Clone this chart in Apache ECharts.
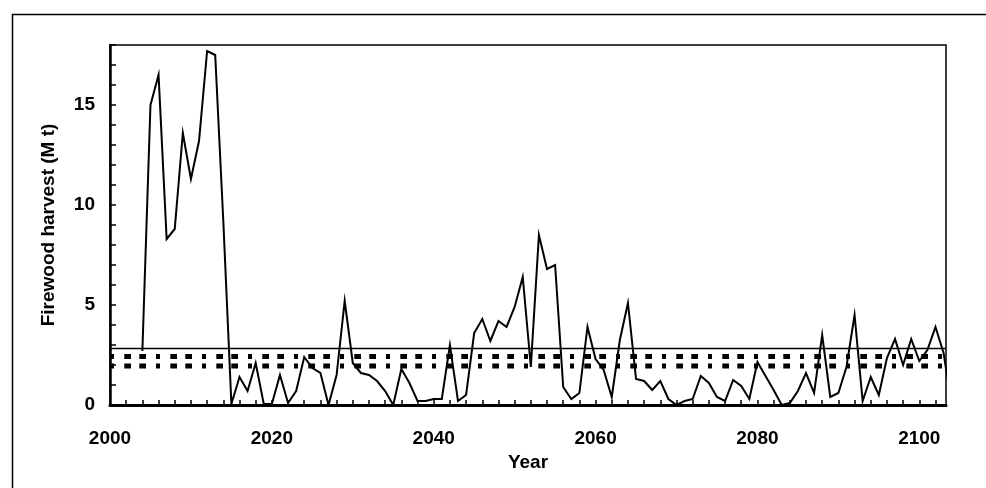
<!DOCTYPE html>
<html>
<head>
<meta charset="utf-8">
<script src="https://cdn.jsdelivr.net/npm/echarts@6/dist/echarts.min.js"></script>
<style>
html,body{margin:0;padding:0;background:#fff;}
#chart{width:986px;height:488px;}
</style>
</head>
<body>
<div id="chart"></div>
<script>
// ---- data ----
var years = [];
for (var y = 2004; y <= 2104; y++) years.push(y);
var harvest = [
  2.7, 15.0, 16.5, 8.3, 8.8, 13.6, 11.3, 13.2, 17.7, 17.5,      // 2004-2013
  9.2, 0.05, 1.4, 0.7, 2.1, 0.05, 0.05, 1.5, 0.1, 0.7,          // 2014-2023
  2.4, 1.85, 1.6, 0.0, 1.5, 5.2, 2.1, 1.6, 1.5, 1.2,            // 2024-2033
  0.7, 0.0, 1.8, 1.1, 0.2, 0.2, 0.3, 0.3, 3.0, 0.2,             // 2034-2043
  0.5, 3.6, 4.3, 3.2, 4.2, 3.9, 4.9, 6.4, 1.9, 8.5,             // 2044-2053
  6.8, 7.0, 0.9, 0.3, 0.6, 3.9, 2.3, 1.75, 0.4, 3.25,           // 2054-2063
  5.1, 1.3, 1.2, 0.75, 1.2, 0.3, 0.0, 0.2, 0.3, 1.45,           // 2064-2073
  1.1, 0.4, 0.2, 1.25, 0.95, 0.3, 2.15, 1.45, 0.75, 0.0,        // 2074-2083
  0.1, 0.7, 1.6, 0.6, 3.5, 0.4, 0.6, 1.9, 4.5, 0.2,             // 2084-2093
  1.4, 0.5, 2.35, 3.3, 2.0, 3.3, 2.2, 2.75, 3.9, 2.6,           // 2094-2103
  0.0                                                           // 2104
];
var refSolid = 2.83;
var refDotted = [2.42, 1.95];
var xTickLabels = [2000, 2020, 2040, 2060, 2080, 2100];
var yTickLabels = [0, 5, 10, 15];
var xName = 'Year';
var yName = 'Firewood harvest (M t)';

// ---- chart ----
var X_MIN = 2000, X_MAX = 2103.3;
var FONT = "'Liberation Sans', Arial, sans-serif";
var chart = echarts.init(document.getElementById('chart'), null, {renderer: 'canvas'});

var mainData = years.map(function (yr, i) { return [yr, harvest[i]]; });
function hline(v) { return [[X_MIN, v], [X_MAX, v]]; }

var series = [
  {
    type: 'line', data: hline(refSolid), symbol: 'none', silent: true,
    lineStyle: {color: '#000', width: 1.5}, z: 2
  }
];
refDotted.forEach(function (v) {
  series.push({
    type: 'line', data: hline(v), symbol: 'none', silent: true,
    lineStyle: {color: '#000', width: 5, type: [4, 10.3, 6.7, 8.3, 6.7, 10], cap: 'butt'}, z: 2
  });
});
series.push({
  type: 'line', data: mainData, symbol: 'none', clip: true,
  lineStyle: {color: '#000', width: 2, join: 'miter'}, z: 3
});

chart.setOption({
  animation: false,
  backgroundColor: '#fff',
  graphic: [{
    type: 'rect', left: 10, top: 12, silent: true,
    shape: {x: 0, y: 0, width: 1100, height: 600},
    style: {fill: 'none', stroke: '#000', lineWidth: 1.5}, z: -10
  }],
  grid: {
    left: 110, right: 40, top: 45, bottom: 83,
    show: true, borderColor: '#000', borderWidth: 1.5, backgroundColor: 'transparent'
  },
  xAxis: {
    type: 'value', min: X_MIN, max: X_MAX, interval: 2,
    name: xName, nameLocation: 'middle', nameGap: 48,
    nameTextStyle: {fontFamily: FONT, fontWeight: 'bold', fontSize: 19, color: '#000'},
    axisLine: {show: true, onZero: false, lineStyle: {color: '#000', width: 3}},
    axisTick: {show: true, inside: true, length: 5, lineStyle: {color: '#000', width: 1.5}},
    axisLabel: {
      margin: 24, fontFamily: FONT, fontWeight: 'bold', fontSize: 19, color: '#000',
      showMaxLabel: false,
      formatter: function (v) { return xTickLabels.indexOf(Math.round(v * 1000) / 1000) >= 0 ? String(v) : ''; }
    },
    splitLine: {show: false}
  },
  yAxis: {
    type: 'value', min: 0, max: 18, interval: 1,
    name: yName, nameLocation: 'middle', nameGap: 52, nameRotate: 90,
    nameTextStyle: {fontFamily: FONT, fontWeight: 'bold', fontSize: 19, color: '#000'},
    axisLine: {show: true, onZero: false, lineStyle: {color: '#000', width: 2.5}},
    axisTick: {show: true, inside: true, length: 6, lineStyle: {color: '#000', width: 1.5}},
    axisLabel: {
      margin: 15, fontFamily: FONT, fontWeight: 'bold', fontSize: 19, color: '#000',
      formatter: function (v) { return yTickLabels.indexOf(v) >= 0 ? String(v) : ''; }
    },
    splitLine: {show: false}
  },
  series: series
});
</script>
</body>
</html>
